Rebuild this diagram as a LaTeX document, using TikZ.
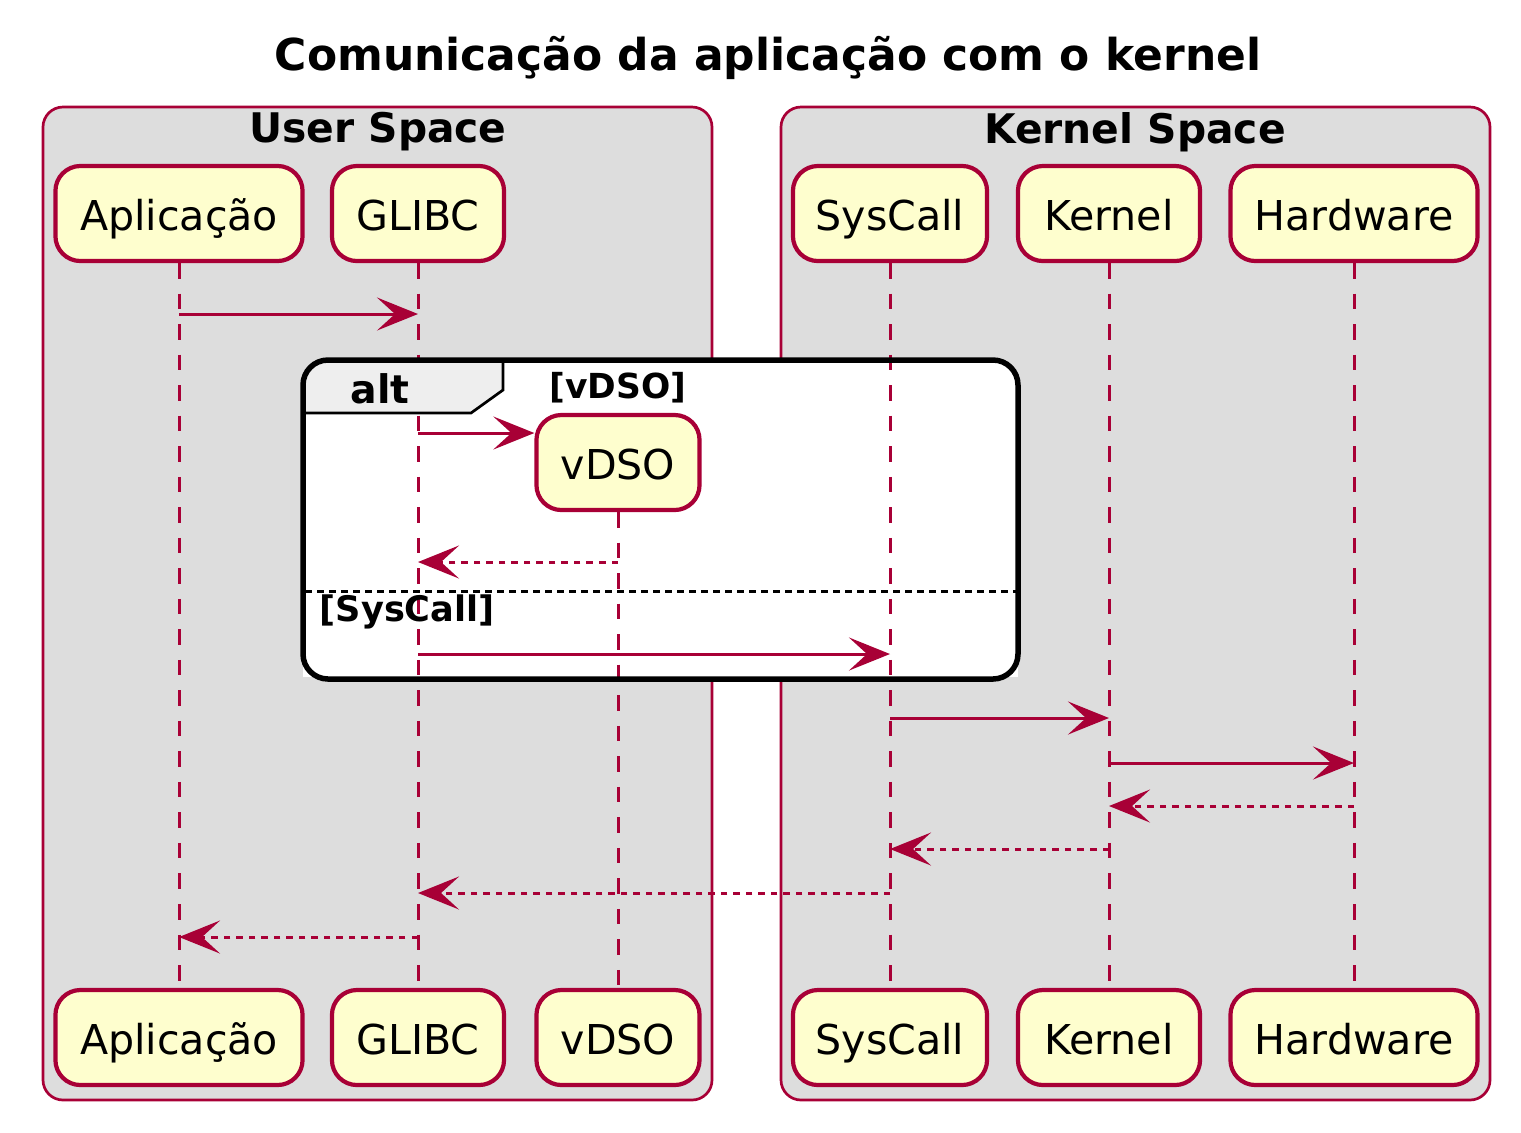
\documentclass[tikz,border=0pt]{standalone}
\usepackage{fontspec}
\setmainfont{DejaVu Sans}
\usetikzlibrary{arrows.meta}
\definecolor{pborder}{HTML}{A80036}
\definecolor{pfill}{HTML}{FEFECE}
\definecolor{gfill}{HTML}{DDDDDD}
\definecolor{tfill}{HTML}{EEEEEE}
\tikzset{
  part/.style={draw=pborder, fill=pfill, line width=0.042cm, rounded corners=0.25cm,
    minimum height=0.95cm, inner sep=0pt, text height=0.40cm, text depth=0.07cm,
    font=\fontsize{11.7}{14}\selectfont},
  grp/.style={draw=pborder, fill=gfill, line width=0.027cm, rounded corners=0.2cm},
  grplabel/.style={font=\bfseries\fontsize{11.6}{14}\selectfont, inner sep=0pt},
  life/.style={draw=pborder, line width=0.03cm, dash pattern=on 0.155cm off 0.15cm},
  msg/.style={draw=pborder, line width=0.03cm, -{Stealth[length=0.41cm,width=0.33cm,inset=0.18cm]}, pborder},
  ret/.style={msg, dash pattern=on 0.065cm off 0.06cm},
}
\begin{document}
\begin{tikzpicture}[x=0.01cm,y=-0.01cm]
\useasboundingbox (0,0) rectangle (1521,1132);
% title
\node[font=\bfseries\fontsize{12.5}{15}\selectfont, inner sep=0pt] (title) at (768,58) {Comunicação da aplicação com o kernel};
% groups
\draw[grp] (43,107) rectangle (712,1100);
\draw[grp] (781,107) rectangle (1490,1100);
\node[grplabel] (gu) at (378,132) {User Space};
\node[grplabel] (gk) at (1135,132) {Kernel Space};
% alt fill
\fill[white] (303,385) rectangle (1018,677);
\fill[white, rounded corners=0.25cm] (303,360) rectangle (1018,679);
% participants top
\node[part, minimum width=2.47cm] (a1) at (179,213.5) {Aplicação};
\node[part, minimum width=1.72cm] (g1) at (418,213.5) {GLIBC};
\node[part, minimum width=1.94cm] (s1) at (890,213.5) {SysCall};
\node[part, minimum width=1.82cm] (k1) at (1109,213.5) {Kernel};
\node[part, minimum width=2.47cm] (h1) at (1354,213.5) {Hardware};
% participants bottom
\node[part, minimum width=2.47cm] (a2) at (179,1037.5) {Aplicação};
\node[part, minimum width=1.72cm] (g2) at (418,1037.5) {GLIBC};
\node[part, minimum width=1.63cm] (v2) at (618,1037.5) {vDSO};
\node[part, minimum width=1.94cm] (s2) at (890,1037.5) {SysCall};
\node[part, minimum width=1.82cm] (k2) at (1109,1037.5) {Kernel};
\node[part, minimum width=2.47cm] (h2) at (1354,1037.5) {Hardware};
% vDSO created
\node[part, minimum width=1.63cm] (v1) at (618,462.5) {vDSO};
% lifelines
\draw[life] (a1.south) -- (a2.north);
\draw[life] (g1.south) -- (g2.north);
\draw[life] (v1.south) -- (v2.north);
\draw[life] (s1.south) -- (s2.north);
\draw[life] (k1.south) -- (k2.north);
\draw[life] (h1.south) -- (h2.north);
% alt frame
\begin{scope}
\clip[rounded corners=0.25cm] (303,360) rectangle (1018,679);
\fill[tfill] (303,360) -- (503,360) -- (503,390) -- (471,413) -- (303,413) -- cycle;
\draw[line width=0.027cm] (503,360) -- (503,390) -- (471,413) -- (303,413);
\end{scope}
\draw[line width=0.055cm, rounded corners=0.25cm] (303,360) rectangle (1018,679);
\draw[line width=0.03cm, dash pattern=on 0.065cm off 0.055cm] (305,591) -- (1016,591);
\node[font=\bfseries\fontsize{11.2}{14}\selectfont, inner sep=0pt] (alt) at (380,389) {alt};
\node[font=\bfseries\fontsize{9.8}{12}\selectfont, inner sep=0pt] (c1) at (618,388) {[vDSO]};
\node[font=\bfseries\fontsize{10}{12}\selectfont, inner sep=0pt, anchor=west] (c2) at (319,612) {[SysCall]};
% message rows
\coordinate (m1) at (0,314);
\coordinate (m2) at (0,433);
\coordinate (m3) at (0,562);
\coordinate (m4) at (0,654);
\coordinate (m5) at (0,718);
\coordinate (m6) at (0,763);
\coordinate (m7) at (0,806);
\coordinate (m8) at (0,849);
\coordinate (m9) at (0,893);
\coordinate (m10) at (0,937);
\draw[msg] (a1 |- m1) -- (g1 |- m1);
\draw[msg] (g1 |- m2) -- (v1.west |- m2);
\draw[ret] (v1 |- m3) -- (g1 |- m3);
\draw[msg] (g1 |- m4) -- (s1 |- m4);
\draw[msg] (s1 |- m5) -- (k1 |- m5);
\draw[msg] (k1 |- m6) -- (h1 |- m6);
\draw[ret] (h1 |- m7) -- (k1 |- m7);
\draw[ret] (k1 |- m8) -- (s1 |- m8);
\draw[ret] (s1 |- m9) -- (g1 |- m9);
\draw[ret] (g1 |- m10) -- (a1 |- m10);
\end{tikzpicture}
\end{document}
